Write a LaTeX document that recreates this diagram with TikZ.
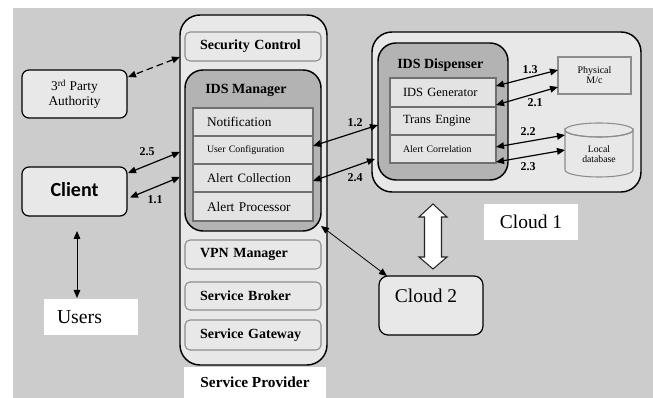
\documentclass[tikz,border=0pt]{standalone}
\usepackage{fontspec}
\setmainfont{Liberation Serif}
\newfontfamily\clientfont{Carlito}
\usetikzlibrary{arrows.meta,calc}

\newlength\pxu \setlength\pxu{0.75pt}
\definecolor{bggray}{HTML}{CCCCCC}
\definecolor{boxfill}{HTML}{E8E8E8}
\definecolor{mgrfill}{HTML}{B3B3B3}
\definecolor{rowfill}{HTML}{E3E3E3}
\definecolor{softline}{HTML}{8C8C8C}
\definecolor{rowline}{HTML}{707070}

\newcommand\fsz[1]{\fontsize{#1}{#1}\selectfont}

% rectangle node given by its corners (x1,y1)-(x2,y2) in pixel units
\newcommand\rectnode[7]{%
  \pgfmathsetlengthmacro\rnw{(#5-#3)*\pxu}%
  \pgfmathsetlengthmacro\rnh{(#6-#4)*\pxu}%
  \node[anchor=north west, inner sep=0pt, outer sep=0pt,
        minimum width=\rnw, minimum height=\rnh, #1] (#2) at (#3,#4) {#7};}

\tikzset{
  lpad/.code={\pgfmathsetlengthmacro\rntw{\rnw-2*#1*\pxu}%
              \tikzset{text width=\rntw, align=left}},
  outer/.style={draw=black, fill=boxfill, line width=1.1pt, rounded corners=20\pxu},
  mgr/.style={draw=black, fill=mgrfill, line width=1.1pt, rounded corners=18\pxu},
  sub/.style={draw=softline, fill=boxfill, line width=0.8pt, rounded corners=5\pxu,
              font=\bfseries\fsz{10.5}},
  rowbox/.style={draw=rowline, fill=rowfill, line width=0.8pt},
  ext/.style={draw=black, fill=boxfill, line width=0.9pt, rounded corners=7\pxu, align=center},
  whitelbl/.style={fill=white},
  title/.style={anchor=west, inner sep=0pt, font=\bfseries\fsz{10.5}},
  lbl/.style={inner sep=0pt, font=\bfseries\fsz{9}},
  conn/.style={line width=0.9pt, {Triangle[length=6pt,width=5pt]}-{Triangle[length=6pt,width=5pt]}},
  cyl/.style={draw=softline, fill=boxfill, line width=0.8pt}
}

\begin{document}
\begin{tikzpicture}[x=0.75pt, y=-0.75pt]
\useasboundingbox (0,0) rectangle (653,398);
\fill[bggray] (13,8) rectangle (653,398);

% ---- Service provider column
\rectnode{outer}{sp}{180}{15}{327}{365}{}
\rectnode{sub,lpad=15}{sc}{185}{32}{321}{61}{Security Control}
\rectnode{mgr}{mgr}{185}{70}{321}{231}{}
\node[title] (mgrt) at (205,90) {IDS Manager};
\rectnode{rowbox,lpad=14,font=\fsz{10}}{nt}{193}{108}{313}{136}{Notification}
\rectnode{rowbox,lpad=14,font=\fsz{7.4}}{uc}{193}{136}{313}{164}{User Configuration}
\rectnode{rowbox,lpad=14,font=\fsz{9.6}}{ac}{193}{164}{313}{192}{Alert Collection}
\rectnode{rowbox,lpad=14,font=\fsz{10}}{ap}{193}{192}{313}{221}{Alert Processor}
\rectnode{sub,lpad=15}{vpn}{185}{240}{321}{269}{VPN Manager}
\rectnode{sub,lpad=15}{sb}{185}{282}{321}{310}{Service Broker}
\rectnode{sub,lpad=15}{sg}{185}{320}{321}{350}{Service Gateway}
\rectnode{whitelbl,font=\bfseries\fsz{11.5}}{spl}{184}{367}{326}{398}{Service Provider}

% ---- left side
\rectnode{ext,font=\fsz{10}}{tp}{22}{70}{127}{118}{3\textsuperscript{rd} Party\\[1pt]Authority}
\rectnode{ext,font=\clientfont\bfseries\fsz{15}}{cl}{22}{167}{127}{216}{Client\vphantom{y}}
\rectnode{whitelbl,lpad=13,font=\fsz{14.8}}{us}{44}{299}{138}{335}{Users}

% ---- Cloud 1
\rectnode{outer}{c1}{372}{32}{641}{192}{}
\rectnode{mgr}{disp}{378}{43}{508}{180}{}
\node[title] (dispt) at (397,65) {IDS Dispenser};
\rectnode{rowbox,lpad=13,font=\fsz{9.4}}{gen}{390}{78}{496}{107}{IDS Generator}
\rectnode{rowbox,lpad=13,font=\fsz{9.4}}{te}{390}{107}{496}{135}{Trans Engine}
\rectnode{rowbox,lpad=13,font=\fsz{7.4}}{acr}{390}{135}{496}{163}{Alert Correlation}
\rectnode{draw=softline,fill=boxfill,line width=0.8pt,align=center,font=\fsz{7.5}}{ph}{558}{57}{631}{94}{Physical\\M/c}
\rectnode{}{db}{565}{123}{633}{177}{}
\filldraw[cyl] (565,130) -- (565,170) arc[start angle=180, end angle=0, x radius=34, y radius=7]
  -- (633,130) arc[start angle=0, end angle=180, x radius=34, y radius=7] -- cycle;
\draw[cyl, fill=none] (599,130) ellipse[x radius=34, y radius=7];
\node[align=center, font=\fsz{7.3}, inner sep=0pt] (dbt) at (599,154) {Local\\database};
\rectnode{whitelbl,font=\fsz{14.6}}{c1l}{484}{204}{578}{240}{Cloud 1}

% ---- Cloud 2
\rectnode{draw=black, fill=boxfill, line width=0.9pt, rounded corners=9\pxu}{c2}{379}{276}{483}{335}{}
\node[font=\fsz{14.6}, inner sep=0pt] (c2t) at (426,296) {Cloud 2};

% exchange between the clouds
\filldraw[fill=white, draw=black!85, line width=0.8pt]
  (433,204) -- (447,217) -- (441.5,217) -- (441.5,257) -- (447,257) -- (433,269)
  -- (419,257) -- (424.5,257) -- (424.5,217) -- (419,217) -- cycle;

% ---- connectors
\draw[conn, dashed, dash pattern=on 5pt off 3pt] ($(sp.north west)+(0,42)$) -- ($(tp.north east)+(1,7)$);
\draw[conn] ($(sp.north west)+(0,137)$) -- ($(cl.north east)+(1,6)$);
\draw[conn] ($(sp.north west)+(0,162)$) -- ($(cl.east)+(3,6)$);
\draw[conn] ($(uc.east)+(0,-4)$) -- ($(disp.west)+(0,13.5)$);
\draw[conn] ($(ac.east)+(0,3)$) -- ($(c1.west)+(3,47)$);
\draw[conn, line width=0.6pt] ($(mgr.south east)+(0,-5)$) -- ($(c2.north west)+(8,0)$);
\draw[conn] ($(gen.east)+(0,-6.5)$) -- ($(ph.west)+(0,-5.5)$);
\draw[conn] ($(gen.east)+(0,12.5)$) -- ($(ph.west)+(0,11.5)$);
\draw[conn] ($(acr.east)+(0,-2)$) -- ($(db.west)+(0,-15)$);
\draw[conn] ($(acr.east)+(0,13)$) -- ($(db.west)+(0,0)$);
\draw[conn, line width=0.7pt] ($(cl.south)+(2.5,15)$) -- ($(us.north)+(-14,-1)$);

% ---- connector labels
\node[lbl] (l25) at (147,152) {2.5};
\node[lbl] (l11) at (155,200) {1.1};
\node[lbl] (l12) at (355,123) {1.2};
\node[lbl] (l24) at (355,178) {2.4};
\node[lbl] (l13) at (530,70) {1.3};
\node[lbl] (l21) at (535,103) {2.1};
\node[lbl] (l22) at (528,132) {2.2};
\node[lbl] (l23) at (528,167) {2.3};
\end{tikzpicture}
\end{document}
